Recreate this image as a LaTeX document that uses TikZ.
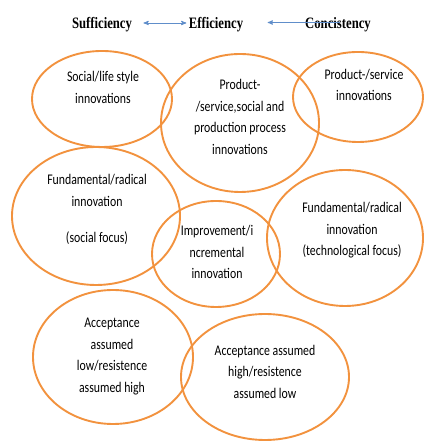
\documentclass[tikz,border=0pt]{standalone}
\usepackage{fontspec}
\usepackage{graphicx}
\usepackage{tikz}
\usetikzlibrary{arrows,shapes}

\setmainfont{Carlito}
\newfontfamily\headfont{Liberation Serif}

\definecolor{ringorange}{RGB}{242,146,62}
\definecolor{linkblue}{RGB}{96,142,202}

\newcommand{\tallbox}[1]{\scalebox{1}[1.25]{\begin{tabular}{@{}c@{}}#1\end{tabular}}}
\newcommand{\headbox}[1]{\scalebox{1}[1.25]{#1}}

\begin{document}
\begin{tikzpicture}[x=1pt,y=1pt,>=stealth',line width=1pt]
  \tikzstyle{ring}=[draw=ringorange,line width=1.9pt,ellipse,inner sep=0pt]
  \tikzstyle{txt}=[inner sep=0pt,font=\fontsize{11.8}{17.2}\selectfont]
  \tikzstyle{head}=[inner sep=1pt,font=\headfont\bfseries\fontsize{12.7}{14}\selectfont]
  \tikzstyle{link}=[<->,draw=linkblue,line width=0.9pt]

  \useasboundingbox (0,0) rectangle (425,443);

  \node[ring,minimum width=140pt,minimum height=96pt]  (sufLife) at (102,344) {};
  \node[ring,minimum width=158pt,minimum height=138pt] (effAll)  at (240,320) {};
  \node[ring,minimum width=130pt,minimum height=90pt]  (conProd) at (358,346) {};
  \node[ring,minimum width=168pt,minimum height=138pt] (sufRad)  at (96,227)  {};
  \node[ring,minimum width=128pt,minimum height=106pt] (effInc)  at (216,189) {};
  \node[ring,minimum width=156pt,minimum height=136pt] (conRad)  at (345,205) {};
  \node[ring,minimum width=160pt,minimum height=134pt] (accLow)  at (113,86)  {};
  \node[ring,minimum width=168pt,minimum height=126pt] (accHigh) at (265,66)  {};

  \node[txt] (sufLifeT) at (103,355)   {\tallbox{Social/life style\\innovations}};
  \node[txt] (effAllT)  at (240,325.5) {\tallbox{Product-\\/service,social and\\production process\\innovations}};
  \node[txt] (conProdT) at (364,357.5) {\tallbox{Product-/service\\innovations}};
  \node[txt] (sufRadT)  at (97,233.5)  {\tallbox{Fundamental/radical\\innovation\\[12pt](social focus)}};
  \node[txt] (effIncT)  at (217,190)   {\tallbox{Improvement/i\\ncremental\\innovation}};
  \node[txt] (conRadT)  at (352,213)   {\tallbox{Fundamental/radical\\innovation\\(technological focus)}};
  \node[txt] (accLowT)  at (112,87.5)  {\tallbox{Acceptance\\assumed\\low/resistence\\assumed high}};
  \node[txt] (accHighT) at (265,70.5)  {\tallbox{Acceptance assumed\\high/resistence\\assumed low}};

  \node[head] (suf)  at (102,418) {\headbox{Sufficiency}};
  \node[head] (eff)  at (216,418) {\headbox{Efficiency}};
  \node[head] (conc) at (338,418) {\headbox{Concistency}};

  \draw[link,shorten <=10pt,shorten >=1pt] ([yshift=2pt]suf.east) -- ([yshift=2pt]eff.west);
  \draw[<-,draw=linkblue,line width=0.9pt,shorten <=23pt]
    ([yshift=2.5pt]eff.east) -- ([xshift=2pt,yshift=2.5pt]conc.center);
\end{tikzpicture}
\end{document}
